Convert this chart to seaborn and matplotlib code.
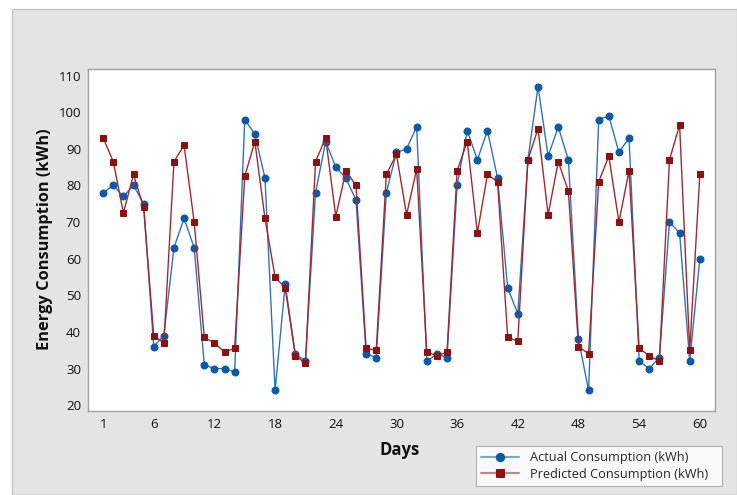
import matplotlib
matplotlib.use("Agg")
import matplotlib.pyplot as plt
import seaborn as sns
import pandas as pd
from matplotlib.patches import Rectangle

days = list(range(1, 61))
actual = [78, 80, 77, 80, 75, 36, 39, 63, 71, 63,
          31, 30, 30, 29, 98, 94, 82, 24, 53, 34,
          32, 78, 92, 85, 82, 76, 34, 33, 78, 89,
          90, 96, 32, 34, 33, 80, 95, 87, 95, 82,
          52, 45, 87, 107, 88, 96, 87, 38, 24, 98,
          99, 89, 93, 32, 30, 33, 70, 67, 32, 60]
predicted = [93, 86.5, 72.5, 83, 74, 39, 37, 86.5, 91, 70,
             38.5, 37, 34.5, 35.5, 82.5, 92, 71, 55, 52, 33.5,
             31.5, 86.5, 93, 71.5, 84, 80, 35.5, 35, 83, 88.5,
             72, 84.5, 34.5, 33.5, 34.5, 84, 92, 67, 83, 81,
             38.5, 37.5, 87, 95.5, 72, 86.5, 78.5, 36, 34, 81,
             88, 70, 84, 35.5, 33.5, 32, 87, 96.5, 35, 83]
x_ticks = [1, 6, 12, 18, 24, 30, 36, 42, 48, 54, 60]
y_ticks = [20, 30, 40, 50, 60, 70, 80, 90, 100, 110]
series_names = ["Actual Consumption (kWh)", "Predicted Consumption (kWh)"]

df = pd.DataFrame({"Days": days, "Actual": actual, "Predicted": predicted})

sns.set_style("white")
plt.rcParams['font.family'] = ['Open Sans', 'DejaVu Sans']

W, H = 737, 495
fig = plt.figure(figsize=(W / 100, H / 100), dpi=100)
fig.patch.set_facecolor("white")
fig.patches.append(Rectangle((12 / W, 0), 1 - 12 / W, 1 - 9 / H, transform=fig.transFigure,
                             facecolor="#e4e4e4", edgecolor="#c4c4c4", linewidth=1.0, zorder=-10))

ax = fig.add_axes([88 / W, 1 - 411 / H, (715 - 88) / W, (411 - 69) / H])
ax.set_facecolor("white")

blue = "#0a5aa8"
red = "#8c1111"
sns.lineplot(data=df, x="Days", y="Actual", ax=ax, color="#3172bb", linewidth=1.0,
             marker="o", markersize=5, markerfacecolor=blue, markeredgecolor=blue,
             label=series_names[0], zorder=3)
sns.lineplot(data=df, x="Days", y="Predicted", ax=ax, color="#a3282c", linewidth=1.0,
             marker="s", markersize=5, markerfacecolor=red, markeredgecolor=red,
             label=series_names[1], zorder=4)

ax.set_xlim(-0.5, 61.5)
ax.set_ylim(18.4, 111.8)
ax.set_xticks(x_ticks)
ax.set_yticks(y_ticks)
ax.tick_params(axis="both", which="both", direction="out", length=3, width=0.8,
               color="#a0a0a0", labelsize=9.5, labelcolor="#111111", pad=2)
for s in ax.spines.values():
    s.set_color("#a0a0a0")
    s.set_linewidth(1.0)

ax.set_xlabel("")
ax.set_ylabel("")
fig.text(400 / W, 1 - 450 / H, "Days", ha="center", va="center", fontsize=12,
         fontweight="bold", color="#111111")
fig.text(45 / W, 1 - 239 / H, "Energy Consumption (kWh)", ha="center", va="center",
         rotation=90, fontsize=11.8, fontweight="bold", color="#111111")

leg = ax.legend(loc="lower left", bbox_to_anchor=(476 / W, 1 - 486 / H, (722 - 476) / W, (486 - 443) / H),
                bbox_transform=fig.transFigure, mode="expand", frameon=True, fancybox=False,
                fontsize=9.2, handlelength=3.0, borderpad=0.4, labelspacing=0.3,
                handletextpad=0.8, borderaxespad=0)
leg.get_frame().set_edgecolor("#a0a0a0")
leg.get_frame().set_linewidth(0.8)
light = ["#78a6da", "#cc8080"]
for line, c in zip(leg.get_lines(), light):
    line.set_color(c)
    line.set_linewidth(1.5)
    line.set_markersize(6)

fig.savefig("out.png", dpi=100, facecolor=fig.get_facecolor())
